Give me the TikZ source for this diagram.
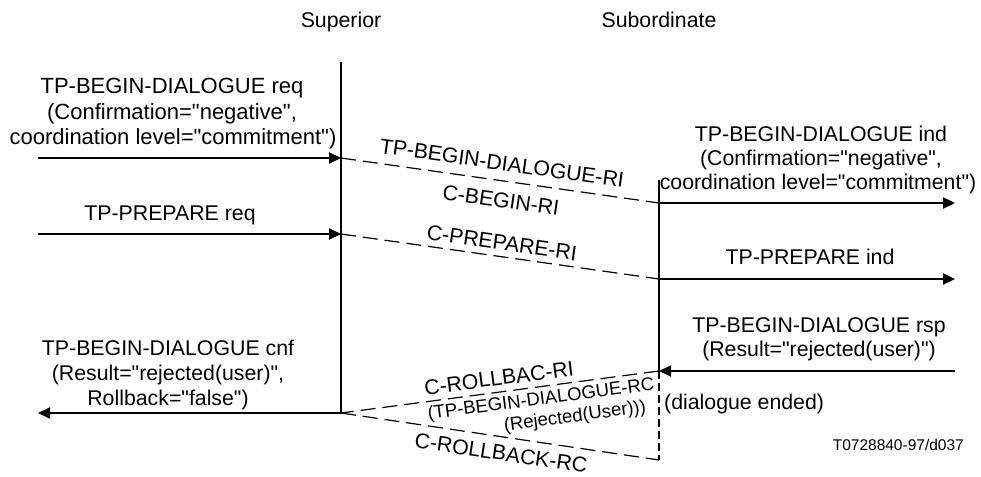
\documentclass[tikz,border=0pt]{standalone}
\usepackage{fontspec}
\setmainfont{Liberation Sans}[Ligatures=TeXOff]
\usetikzlibrary{arrows.meta}
\begin{document}
\begin{tikzpicture}[x=1pt,y=-1pt,
  txt/.style={font=\fontsize{21.3}{24}\selectfont, inner sep=0pt},
  bigtxt/.style={font=\fontsize{22}{25}\selectfont, inner sep=0pt},
  smalltxt/.style={font=\fontsize{18.5}{21}\selectfont, inner sep=0pt},
  tinytxt/.style={font=\fontsize{15.5}{18}\selectfont, inner sep=0pt},
  msg/.style={line width=2pt, -{Triangle[length=12pt,width=11pt]}},
  pdu/.style={line width=1.2pt, dash pattern=on 15pt off 7pt},
  life/.style={line width=2pt},
  lifedash/.style={line width=2pt, dash pattern=on 8pt off 4pt},
]
\useasboundingbox (0,0) rectangle (981,476);

% lifelines
\coordinate (supTop) at (341,62);
\coordinate (supBot) at (341,413);
\coordinate (subTop) at (659,180);
\coordinate (subMid) at (659,371);
\coordinate (subBot) at (659,460);
\draw[life] (supTop) -- (supBot);
\draw[life] (subTop) -- (subMid);
\draw[lifedash] (subMid) -- (subBot);

% headings
\node[txt, anchor=base] (sup) at (341,28) {Superior};
\node[txt, anchor=base] (sub) at (659,28) {Subordinate};

% endpoints
\coordinate (l1) at (38,158);   \coordinate (s1) at (341,158);
\coordinate (u1) at (659,203);  \coordinate (r1) at (955,203);
\coordinate (l2) at (38,234);   \coordinate (s2) at (341,234);
\coordinate (u2) at (659,279);  \coordinate (r2) at (955,279);
\coordinate (r3) at (955,371);
\coordinate (l4) at (38,413);

% messages
\draw[msg] (l1) -- (s1);
\draw[pdu] (s1) -- (u1);
\draw[msg] (u1) -- (r1);
\draw[msg] (l2) -- (s2);
\draw[pdu] (s2) -- (u2);
\draw[msg] (u2) -- (r2);
\draw[msg] (r3) -- (subMid);
\draw[pdu] (subMid) -- (supBot);
\draw[pdu] (supBot) -- (subBot);
\draw[msg] (supBot) -- (l4);

% left texts
\node[bigtxt, anchor=base] (rq1) at (172,94) {TP-BEGIN-DIALOGUE req};
\node[bigtxt, anchor=base] (rq2) at (172,119) {(Confirmation="negative",};
\node[bigtxt, anchor=base] (rq3) at (173,144) {coordination level="commitment")};
\node[txt, anchor=base] (pr) at (170,220) {TP-PREPARE req};
\node[txt, anchor=base] (cf1) at (168,355) {TP-BEGIN-DIALOGUE cnf};
\node[txt, anchor=base] (cf2) at (168,380) {(Result="rejected(user)",};
\node[txt, anchor=base] (cf3) at (168,405) {Rollback="false")};

% right texts
\node[txt, anchor=base] (in1) at (821,141) {TP-BEGIN-DIALOGUE ind};
\node[txt, anchor=base] (in2) at (821,165) {(Confirmation="negative",};
\node[txt, anchor=base] (in3) at (818,189) {coordination level="commitment")};
\node[txt, anchor=base] (pi) at (810,264) {TP-PREPARE ind};
\node[txt, anchor=base] (rs1) at (819,332) {TP-BEGIN-DIALOGUE rsp};
\node[txt, anchor=base] (rs2) at (819,356) {(Result="rejected(user)")};
\node[txt, anchor=base west] (end) at (664,409) {(dialogue ended)};
\node[tinytxt, anchor=base east] (ref) at (964,450) {T0728840-97/d037};

% PDU labels
\node[txt, rotate=-8.05] (pd1) at (502,163) {TP-BEGIN-DIALOGUE-RI};
\node[txt, rotate=-8.05] (pd2) at (501,200) {C-BEGIN-RI};
\node[txt, rotate=-8.05] (pd3) at (502,243) {C-PREPARE-RI};
\node[txt, rotate=7.5] (pd4) at (499,378) {C-ROLLBAC-RI};
\node[smalltxt, rotate=7.5] (pd5) at (541,400) {(TP-BEGIN-DIALOGUE-RC};
\node[smalltxt, rotate=7.5] (pd6) at (575,417) {(Rejected(User)))};
\node[txt, rotate=-8.4] (pd7) at (501,453) {C-ROLLBACK-RC};
\end{tikzpicture}
\end{document}
